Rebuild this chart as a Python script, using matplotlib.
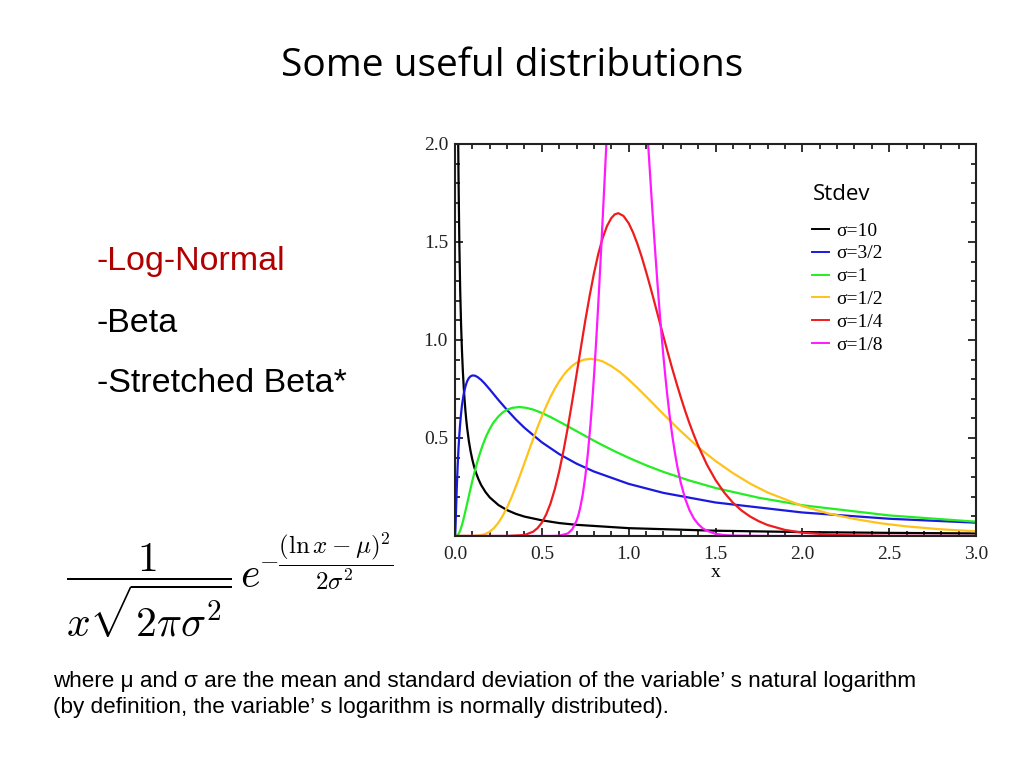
import matplotlib
matplotlib.use("Agg")
import matplotlib.pyplot as plt
from matplotlib.ticker import MultipleLocator, FixedLocator

plt.rcParams['mathtext.fontset'] = 'cm'

# ---- data (log-normal pdfs, mu = 0) ----
labels = ["σ=10", "σ=3/2", "σ=1", "σ=1/2", "σ=1/4", "σ=1/8"]
colors = ["#000000", "#1a1adf", "#22ee22", "#ffc21a", "#ee1c1c", "#ff1aff"]

x_s10 = [0.018, 0.02, 0.025, 0.03, 0.035, 0.04, 0.045, 0.05, 0.055, 0.06, 0.065, 0.07, 0.08, 0.09, 0.1,
         0.11, 0.12, 0.135, 0.15, 0.175, 0.2, 0.25, 0.3, 0.35, 0.4, 0.5, 0.6, 0.7, 1.0, 1.5, 2.0, 2.5, 3.0]
y_s10 = [2.05, 1.85, 1.49, 1.25, 1.078, 0.947, 0.845, 0.763, 0.696, 0.639, 0.591, 0.550, 0.483, 0.431, 0.389,
         0.354, 0.325, 0.290, 0.261, 0.225, 0.197, 0.158, 0.132, 0.113, 0.099, 0.080, 0.066, 0.057, 0.040, 0.027,
         0.020, 0.016, 0.013]

x_s32 = [0.0, 0.001, 0.0015, 0.002, 0.003, 0.004, 0.005, 0.007, 0.01, 0.015, 0.02, 0.025, 0.03, 0.035, 0.04,
         0.05, 0.06, 0.07, 0.08, 0.09, 0.1, 0.115, 0.13, 0.15, 0.17, 0.2, 0.25, 0.3, 0.35, 0.4, 0.5, 0.6, 0.7,
         0.8, 1.0, 1.2, 1.5, 2.0, 2.5, 3.0]
y_s32 = [0.0, 0.0066, 0.0147, 0.025, 0.049, 0.076, 0.104, 0.160, 0.239, 0.352, 0.443, 0.517, 0.576, 0.625, 0.666,
         0.724, 0.763, 0.790, 0.806, 0.815, 0.819, 0.818, 0.811, 0.797, 0.779, 0.748, 0.694, 0.643, 0.595, 0.552,
         0.478, 0.418, 0.369, 0.329, 0.266, 0.220, 0.171, 0.120, 0.088, 0.068]

x_s1 = [0.0, 0.01, 0.02, 0.03, 0.04, 0.05, 0.06, 0.07, 0.08, 0.09, 0.1, 0.115, 0.13, 0.145, 0.16, 0.18, 0.2,
        0.22, 0.25, 0.275, 0.3, 0.33, 0.37, 0.41, 0.45, 0.5, 0.55, 0.62, 0.7, 0.78, 0.85, 0.92, 1.0, 1.1, 1.2,
        1.35, 1.5, 1.75, 2.0, 2.5, 3.0]
y_s1 = [0.0, 0.001, 0.0095, 0.028, 0.056, 0.090, 0.127, 0.166, 0.205, 0.244, 0.282, 0.334, 0.383, 0.426, 0.465,
        0.510, 0.546, 0.577, 0.610, 0.631, 0.644, 0.654, 0.658, 0.654, 0.645, 0.628, 0.607, 0.574, 0.535, 0.496,
        0.463, 0.432, 0.399, 0.361, 0.327, 0.283, 0.245, 0.195, 0.157, 0.105, 0.073]

x_s12 = [0.0, 0.1, 0.15, 0.175, 0.2, 0.225, 0.25, 0.275, 0.3, 0.325, 0.35, 0.375, 0.4, 0.425, 0.45, 0.475, 0.5,
         0.525, 0.55, 0.575, 0.6, 0.625, 0.65, 0.675, 0.7, 0.74, 0.78, 0.82, 0.85, 0.9, 0.95, 1.0, 1.05, 1.1,
         1.15, 1.2, 1.25, 1.3, 1.35, 1.4, 1.45, 1.5, 1.6, 1.7, 1.8, 2.0, 2.15, 2.3, 2.45, 2.6, 2.8, 3.0]
y_s12 = [0.0, 0.0002, 0.004, 0.0105, 0.022, 0.041, 0.068, 0.1035, 0.147, 0.196, 0.252, 0.311, 0.372, 0.434, 0.495,
         0.5545, 0.610, 0.662, 0.710, 0.752, 0.789, 0.821, 0.847, 0.868, 0.884, 0.899, 0.904, 0.899, 0.891, 0.867,
         0.836, 0.798, 0.756, 0.712, 0.667, 0.622, 0.578, 0.535, 0.494, 0.454, 0.418, 0.383, 0.321, 0.267, 0.222,
         0.153, 0.115, 0.087, 0.065, 0.049, 0.034, 0.024]

x_s14 = [0.0, 0.3, 0.4, 0.45, 0.475, 0.5, 0.525, 0.55, 0.575, 0.6, 0.625, 0.65, 0.675, 0.7, 0.725, 0.75, 0.775,
         0.8, 0.825, 0.85, 0.875, 0.9, 0.92, 0.94, 0.97, 1.0, 1.025, 1.05, 1.075, 1.1, 1.125, 1.15, 1.175, 1.2,
         1.225, 1.25, 1.275, 1.3, 1.325, 1.35, 1.375, 1.4, 1.45, 1.5, 1.55, 1.6, 1.65, 1.7, 1.75, 1.8, 1.9, 2.0,
         2.2, 2.5, 3.0]
y_s14 = [0.0, 0.0, 0.005, 0.022, 0.040, 0.068, 0.110, 0.166, 0.240, 0.330, 0.436, 0.556, 0.687, 0.824, 0.962,
         1.098, 1.224, 1.339, 1.439, 1.520, 1.581, 1.622, 1.641, 1.647, 1.633, 1.596, 1.549, 1.491, 1.424, 1.349,
         1.270, 1.187, 1.103, 1.019, 0.937, 0.857, 0.781, 0.708, 0.639, 0.575, 0.516, 0.461, 0.365, 0.286, 0.222,
         0.170, 0.130, 0.099, 0.075, 0.056, 0.031, 0.017, 0.005, 0.001, 0.0]

x_s18 = [0.0, 0.5, 0.55, 0.6, 0.65, 0.675, 0.7, 0.71, 0.72, 0.735, 0.75, 0.765, 0.78, 0.79, 0.8, 0.81, 0.82,
         0.83, 0.84, 0.85, 0.86, 0.87, 0.88, 0.9, 0.95, 1.0, 1.05, 1.1, 1.11, 1.12, 1.135, 1.15, 1.165, 1.18,
         1.19, 1.2, 1.21, 1.22, 1.235, 1.25, 1.265, 1.28, 1.3, 1.325, 1.35, 1.375, 1.4, 1.425, 1.45, 1.5, 1.55,
         1.6, 1.8, 3.0]
y_s18 = [0.0, 0.0, 0.0001, 0.0013, 0.013, 0.034, 0.078, 0.105, 0.140, 0.209, 0.301, 0.420, 0.568, 0.683, 0.811,
         0.952, 1.104, 1.266, 1.436, 1.613, 1.792, 1.972, 2.150, 2.486, 3.088, 3.192, 2.817, 2.170, 2.029, 1.889,
         1.683, 1.486, 1.299, 1.126, 1.019, 0.918, 0.825, 0.738, 0.621, 0.519, 0.431, 0.355, 0.272, 0.191, 0.132,
         0.090, 0.061, 0.040, 0.027, 0.011, 0.0044, 0.002, 0.0, 0.0]

series_x = [x_s10, x_s32, x_s1, x_s12, x_s14, x_s18]
series_y = [y_s10, y_s32, y_s1, y_s12, y_s14, y_s18]

x_ticks = [0.0, 0.5, 1.0, 1.5, 2.0, 2.5, 3.0]
x_ticklabels = ["0.0", "0.5", "1.0", "1.5", "2.0", "2.5", "3.0"]
y_ticks = [0.5, 1.0, 1.5, 2.0]
y_ticklabels = ["0.5", "1.0", "1.5", "2.0"]

bullets = ["-Log-Normal", "-Beta", "-Stretched Beta*"]
bullet_colors = ["#b00000", "#000000", "#000000"]

# ---- figure ----
fig = plt.figure(figsize=(10.24, 7.68), dpi=100)
fig.patch.set_facecolor("white")

fig.text(0.5, 1 - 66 / 768, "Some useful distributions", ha="center", va="center",
         fontsize=28, family="Open Sans")

ax = fig.add_axes([455 / 1024, 1 - 536 / 768, (976 - 455) / 1024, (536 - 144) / 768])
for xs, ys, c, lab in zip(series_x, series_y, colors, labels):
    ax.plot(xs, ys, color=c, lw=1.6, label=lab)

ax.set_xlim(0, 3)
ax.set_ylim(0, 2)
ax.xaxis.set_major_locator(FixedLocator(x_ticks))
ax.xaxis.set_minor_locator(MultipleLocator(0.1))
ax.yaxis.set_major_locator(FixedLocator(y_ticks))
ax.yaxis.set_minor_locator(MultipleLocator(0.1))
ax.tick_params(which="both", direction="in", top=True, right=True, width=1.3, colors="#222222")
ax.tick_params(which="major", length=6)
ax.tick_params(which="minor", length=3.5)
ax.tick_params(axis="x", which="major", pad=7)
ax.tick_params(axis="y", which="major", pad=5)
ax.set_xticklabels(x_ticklabels, family="Liberation Serif", fontsize=14)
ax.set_yticklabels(y_ticklabels, family="Liberation Serif", fontsize=14)
ax.set_xlabel("x", family="Liberation Serif", fontsize=14, labelpad=1)
for sp in ax.spines.values():
    sp.set_linewidth(1.5)
    sp.set_color("#222222")

ax.text((813 - 455) / 521, 1 - (195 - 144) / 392, "Stdev", transform=ax.transAxes,
        family="Open Sans", fontsize=16, ha="left", va="center")
leg = ax.legend(loc="upper left", bbox_to_anchor=((812 - 455) / 521, 1 - (222 - 144) / 392),
                frameon=False, handlelength=0.85, handletextpad=0.4, labelspacing=0.27,
                borderpad=0, borderaxespad=0,
                prop={"family": "Liberation Serif", "size": 14})
for h in leg.get_lines():
    h.set_linewidth(1.4)

# bullets on the left
for i, (t, c) in enumerate(zip(bullets, bullet_colors)):
    fig.text(97 / 1024, 1 - (262 + 61 * i) / 768, t, color=c, fontsize=24.5,
             family="Liberation Sans", va="center", ha="left")

# formula
fig.text(66 / 1024, 1 - 591 / 768, r"$\dfrac{1}{x\sqrt{2\pi\sigma^2}}\,e$",
         fontsize=30, va="center", ha="left")
fig.text(259 / 1024, 1 - 561 / 768, r"$-\dfrac{(\ln x-\mu)^2}{2\sigma^2}$",
         fontsize=18, va="center", ha="left")

# footnote
fig.text(53 / 1024, 1 - 681 / 768,
         "where μ and σ are the mean and standard deviation of the variable’ s natural logarithm",
         fontsize=16.2, family="Liberation Sans", va="center", ha="left")
fig.text(53 / 1024, 1 - 708 / 768,
         "(by definition, the variable’ s logarithm is normally distributed).",
         fontsize=16.2, family="Liberation Sans", va="center", ha="left")

fig.savefig("out.png", dpi=100)
